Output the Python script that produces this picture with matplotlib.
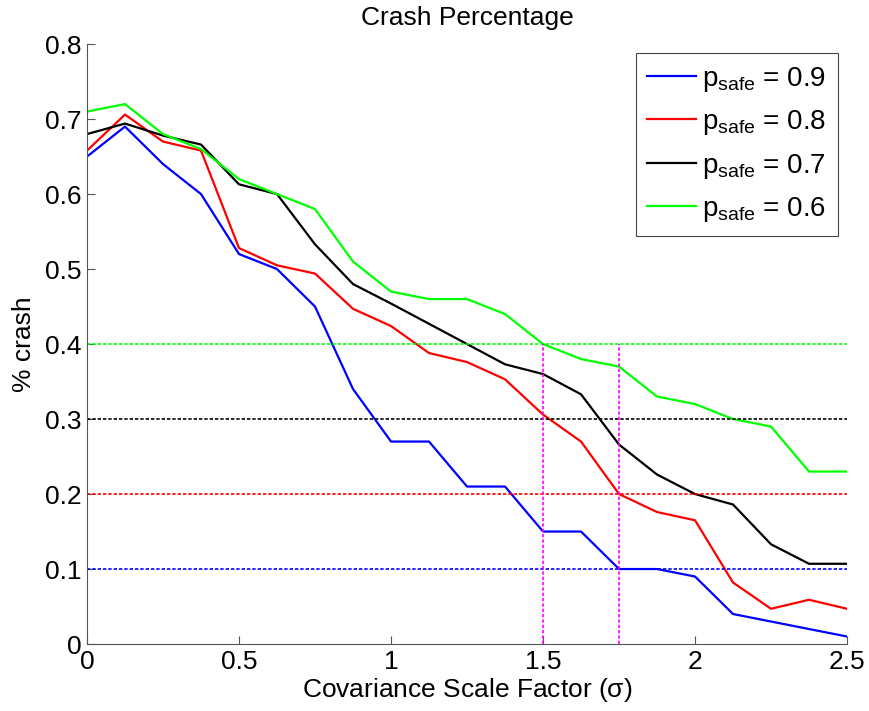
import numpy as np
import matplotlib.pyplot as plt

plt.rcParams['font.family'] = ['Liberation Sans', 'DejaVu Sans']
plt.rcParams['mathtext.fontset'] = 'custom'
plt.rcParams['mathtext.rm'] = 'Liberation Sans'
plt.rcParams['mathtext.it'] = 'Liberation Sans:italic'

# covariance scale factor samples
sigma = np.arange(21) * 0.125

crash_p09 = [0.65, 0.69, 0.64, 0.60, 0.52, 0.50, 0.45, 0.34, 0.27, 0.27, 0.21,
             0.21, 0.15, 0.15, 0.10, 0.10, 0.09, 0.04, 0.03, 0.02, 0.01]
crash_p08 = [0.658, 0.706, 0.67, 0.658, 0.528, 0.505, 0.494, 0.447, 0.424, 0.388, 0.376,
             0.353, 0.306, 0.27, 0.20, 0.176, 0.165, 0.082, 0.047, 0.059, 0.047]
crash_p07 = [0.68, 0.694, 0.678, 0.666, 0.613, 0.60, 0.533, 0.48, 0.454, 0.427, 0.40,
             0.373, 0.36, 0.333, 0.266, 0.226, 0.20, 0.186, 0.133, 0.107, 0.107]
crash_p06 = [0.71, 0.72, 0.68, 0.66, 0.62, 0.60, 0.58, 0.51, 0.47, 0.46, 0.46,
             0.44, 0.40, 0.38, 0.37, 0.33, 0.32, 0.30, 0.29, 0.23, 0.23]

p_safe = [0.9, 0.8, 0.7, 0.6]
colors = ['#0000ff', '#ff0000', '#000000', '#00ff00']
thresholds = [0.1, 0.2, 0.3, 0.4]   # 1 - p_safe
marked_sigma = [1.5, 1.75]

fig = plt.figure(figsize=(8.7, 7.11), dpi=100)
ax = fig.add_axes([0.1, 0.0942, 0.8736, 0.8438])

for ys, p, c in zip([crash_p09, crash_p08, crash_p07, crash_p06], p_safe, colors):
    ax.plot(sigma, ys, color=c, lw=1.6,
            label=r'p$_{\mathregular{safe}}$ = %.1f' % p)

# threshold levels
for t, c in zip(thresholds, colors):
    ax.axhline(t, color=c, ls=(0, (2, 1.2)), lw=1.2)

# sigma where the 0.6 and 0.9 curves hit their thresholds
for s in marked_sigma:
    ax.plot([s, s], [0, 0.4], color='#ff00ff', ls=(0, (2, 1.2)), lw=1.2)

ax.set_xlim(0, 2.5)
ax.set_ylim(0, 0.8)
ax.set_xticks([0, 0.5, 1, 1.5, 2, 2.5])
ax.set_xticklabels(['0', '0.5', '1', '1.5', '2', '2.5'])
ax.set_yticks(np.arange(0, 0.81, 0.1))
ax.set_yticklabels(['0', '0.1', '0.2', '0.3', '0.4', '0.5', '0.6', '0.7', '0.8'])
ax.tick_params(direction='in', labelsize=19, length=6, width=0.8, color='#555555', pad=4)
ax.spines['top'].set_visible(False)
ax.spines['right'].set_visible(False)
for sp in ['left', 'bottom']:
    ax.spines[sp].set_color('#555555')
    ax.spines[sp].set_linewidth(0.8)

ax.set_title('Crash Percentage', fontsize=19, pad=14)
ax.set_xlabel(r'Covariance Scale Factor ($\mathregular{\sigma}$)', fontsize=19, labelpad=2)
ax.set_ylabel('% crash', fontsize=19, labelpad=6)

leg = ax.legend(loc='upper right', fontsize=20, fancybox=False, framealpha=1,
                handlelength=1.75, handletextpad=0.22, borderpad=0.42,
                labelspacing=0.52, borderaxespad=0,
                bbox_to_anchor=(0.988, 0.985))
leg.get_frame().set_edgecolor('#444444')
leg.get_frame().set_linewidth(0.8)

fig.savefig('out.png', dpi=100)
